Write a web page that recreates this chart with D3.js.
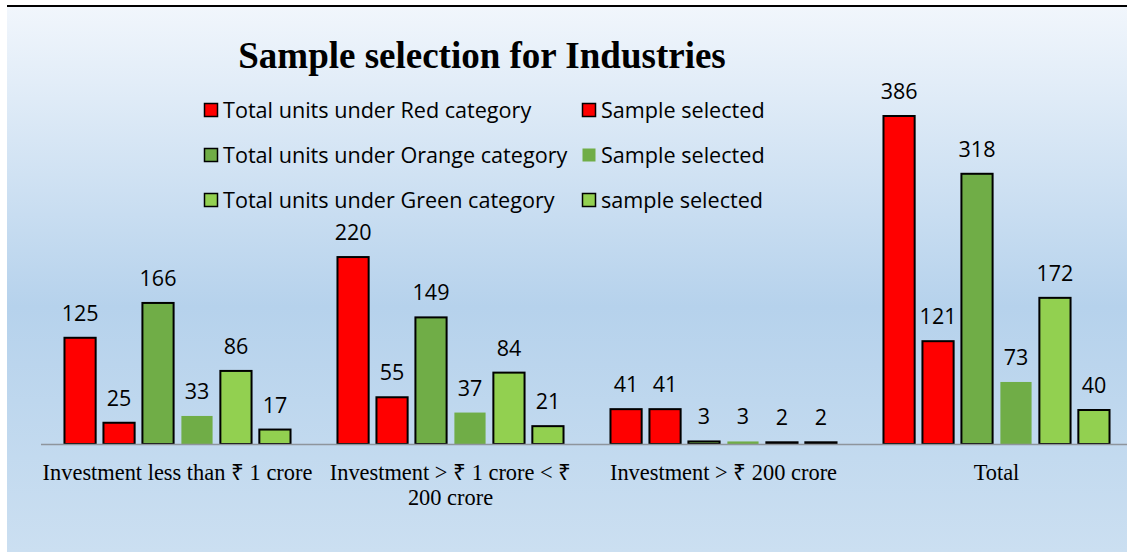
<!DOCTYPE html>
<meta charset="utf-8">
<style>
  body { margin: 0; background: #fff; }
  .cat { font-family: "Liberation Serif", "Times New Roman", serif; font-size: 22.4px; fill: #000; }
  .lbl { font-family: "Open Sans", sans-serif; font-size: 21.5px; fill: #000; }
  .leg { font-family: "Open Sans", sans-serif; font-size: 21.6px; fill: #000; }
</style>
<body>
<script src="https://d3js.org/d3.v7.min.js"></script>
<script>
var categories = ["Investment less than \u20b9 1 crore", "Investment > \u20b9 1 crore < \u20b9 200 crore", "Investment > \u20b9 200 crore", "Total"];
var seriesNames = ["Total units under Red category", "Sample selected", "Total units under Orange category", "Sample selected", "Total units under Green category", "sample selected"];
var redTotal = [125, 220, 41, 386];
var redSample = [25, 55, 41, 121];
var orangeTotal = [166, 149, 3, 318];
var orangeSample = [33, 37, 3, 73];
var greenTotal = [86, 84, 2, 172];
var greenSample = [17, 21, 2, 40];

var series = [redTotal, redSample, orangeTotal, orangeSample, greenTotal, greenSample];
var fills = ["#ff0000", "#ff0000", "#70ad47", "#70ad47", "#92d050", "#92d050"];
var strokes = ["#000", "#000", "#000", "none", "#000", "#000"];

var width = 1127, height = 552;
var baseY = 444;

var svg = d3.select("body").append("svg")
    .attr("width", width)
    .attr("height", height);

var defs = svg.append("defs");
var grad = defs.append("linearGradient").attr("id", "bg")
    .attr("x1", 0).attr("y1", 0).attr("x2", 0).attr("y2", 1);
grad.append("stop").attr("offset", "0%").attr("stop-color", "#f1f6fc");
grad.append("stop").attr("offset", "55%").attr("stop-color", "#b6d2ec");
grad.append("stop").attr("offset", "100%").attr("stop-color", "#cbdff1");

svg.append("rect")
    .attr("x", 7).attr("y", 7)
    .attr("width", width - 7).attr("height", height - 7)
    .attr("fill", "url(#bg)");

// top rule
svg.append("line")
    .attr("x1", 7).attr("x2", width)
    .attr("y1", 6).attr("y2", 6)
    .attr("stroke", "#000").attr("stroke-width", 2);

var x0 = d3.scaleBand()
    .domain(d3.range(categories.length))
    .range([41, 1133])
    .paddingInner(0.172)
    .paddingOuter(0.086);

var x1 = d3.scaleBand()
    .domain(d3.range(series.length))
    .range([0, x0.bandwidth()])
    .paddingInner(0.2)
    .paddingOuter(0);

var y = d3.scaleLinear()
    .domain([0, 386])
    .range([baseY, 116]);

// title
svg.append("text")
    .attr("x", 482).attr("y", 68)
    .attr("text-anchor", "middle")
    .style("font-family", "'Liberation Serif', 'Times New Roman', serif")
    .style("font-weight", "bold")
    .style("font-size", "37px")
    .text("Sample selection for Industries");

// legend
var legendPos = [[204, 110], [582, 110], [204, 155], [582, 155], [204, 200], [582, 200]];
var leg = svg.selectAll("g.legend")
    .data(seriesNames)
    .enter().append("g")
    .attr("class", "legend")
    .attr("transform", function(d, i) { return "translate(" + legendPos[i][0] + "," + legendPos[i][1] + ")"; });

leg.append("rect")
    .attr("x", 0.5).attr("y", -6.5)
    .attr("width", 13).attr("height", 13)
    .attr("fill", function(d, i) { return fills[i]; })
    .attr("stroke", function(d, i) { return strokes[i]; })
    .attr("stroke-width", 1.5);

leg.append("text")
    .attr("class", "leg")
    .attr("x", 19).attr("y", 8)
    .text(function(d) { return d; });

// bars
var groups = svg.selectAll("g.cat")
    .data(categories)
    .enter().append("g")
    .attr("transform", function(d, i) { return "translate(" + x0(i) + ",0)"; });

groups.each(function(c, ci) {
  var g = d3.select(this);
  series.forEach(function(s, si) {
    var v = s[ci];
    g.append("rect")
        .attr("x", x1(si))
        .attr("y", y(v))
        .attr("width", x1.bandwidth())
        .attr("height", baseY - y(v))
        .attr("fill", fills[si])
        .attr("stroke", strokes[si])
        .attr("stroke-width", 2);
    g.append("text")
        .attr("class", "lbl")
        .attr("x", x1(si) + x1.bandwidth() / 2)
        .attr("y", y(v) - 17)
        .attr("text-anchor", "middle")
        .text(v);
  });
});

// baseline
svg.append("line")
    .attr("x1", 41).attr("x2", width)
    .attr("y1", baseY + 0.5).attr("y2", baseY + 0.5)
    .attr("stroke", "#8e959c").attr("stroke-width", 1.5);

// category labels
var catLines = [["Investment less than \u20b9 1 crore"], ["Investment > \u20b9 1 crore < \u20b9", "200 crore"], ["Investment > \u20b9 200 crore"], ["Total"]];
svg.selectAll("text.cat")
    .data(catLines)
    .enter().append("text")
    .attr("class", "cat")
    .attr("text-anchor", "middle")
    .attr("x", function(d, i) { return x0(i) + x0.bandwidth() / 2; })
    .attr("y", 480)
    .each(function(d) {
      var t = d3.select(this);
      d.forEach(function(line, li) {
        t.append("tspan")
            .attr("x", t.attr("x"))
            .attr("dy", li === 0 ? 0 : 25)
            .text(line);
      });
    });
</script>
</body>
</html>
